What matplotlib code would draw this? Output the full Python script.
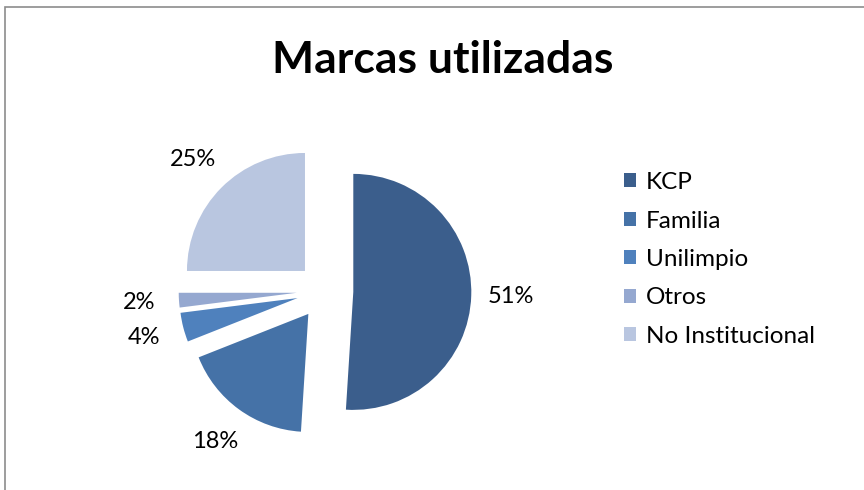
import matplotlib.pyplot as plt
from matplotlib.patches import Rectangle

# data
labels = ["KCP", "Familia", "Unilimpio", "Otros", "No Institucional"]
shares = [51, 18, 4, 2, 25]
colors = ["#3B5E8C", "#4572A7", "#4F81BD", "#95A8D0", "#B9C6E0"]

W, H = 864, 490
fig = plt.figure(figsize=(W / 100, H / 100), dpi=100)
plt.rcParams['font.family'] = ['Lato', 'DejaVu Sans']

# outer chart frame (grey line, cut by the image edge on right/bottom)
fig.patches.append(Rectangle((5 / W, -0.1), 1.2, (H - 7) / H + 0.1,
                             transform=fig.transFigure, fill=False,
                             edgecolor="#8c8c8c", linewidth=1.2))

# pie centre (px from top-left) and radius in px
cx, cy, r = 325, 291, 118
left, right, top, bottom = 100, 560, 120, 480
ax = fig.add_axes([left / W, (H - bottom) / H, (right - left) / W, (bottom - top) / H])

wedges, texts = ax.pie(shares, colors=colors, startangle=90, counterclock=False,
                       explode=[0.24] * len(shares),
                       wedgeprops=dict(linewidth=0),
                       labels=[f"{v}%" for v in shares], labeldistance=1.34,
                       textprops=dict(fontsize=17, color="black"))
for t in texts:
    t.set_ha("center")
    t.set_va("center")

ax.set_aspect("auto")
ax.set_xlim((left - cx) / r, (right - cx) / r)
ax.set_ylim((cy - bottom) / r, (cy - top) / r)
ax.axis("off")

fig.text(443 / W, 1 - 60 / H, "Marcas utilizadas", ha="center", va="center",
         fontsize=32, fontweight="bold")

fig.legend(wedges, labels, loc="upper left", bbox_to_anchor=(624 / W, 1 - 172 / H),
           frameon=False, fontsize=17.5, handlelength=0.5, handleheight=0.5,
           handletextpad=0.4, labelspacing=0.72, borderpad=0, borderaxespad=0)

fig.savefig("out.png", dpi=100)
